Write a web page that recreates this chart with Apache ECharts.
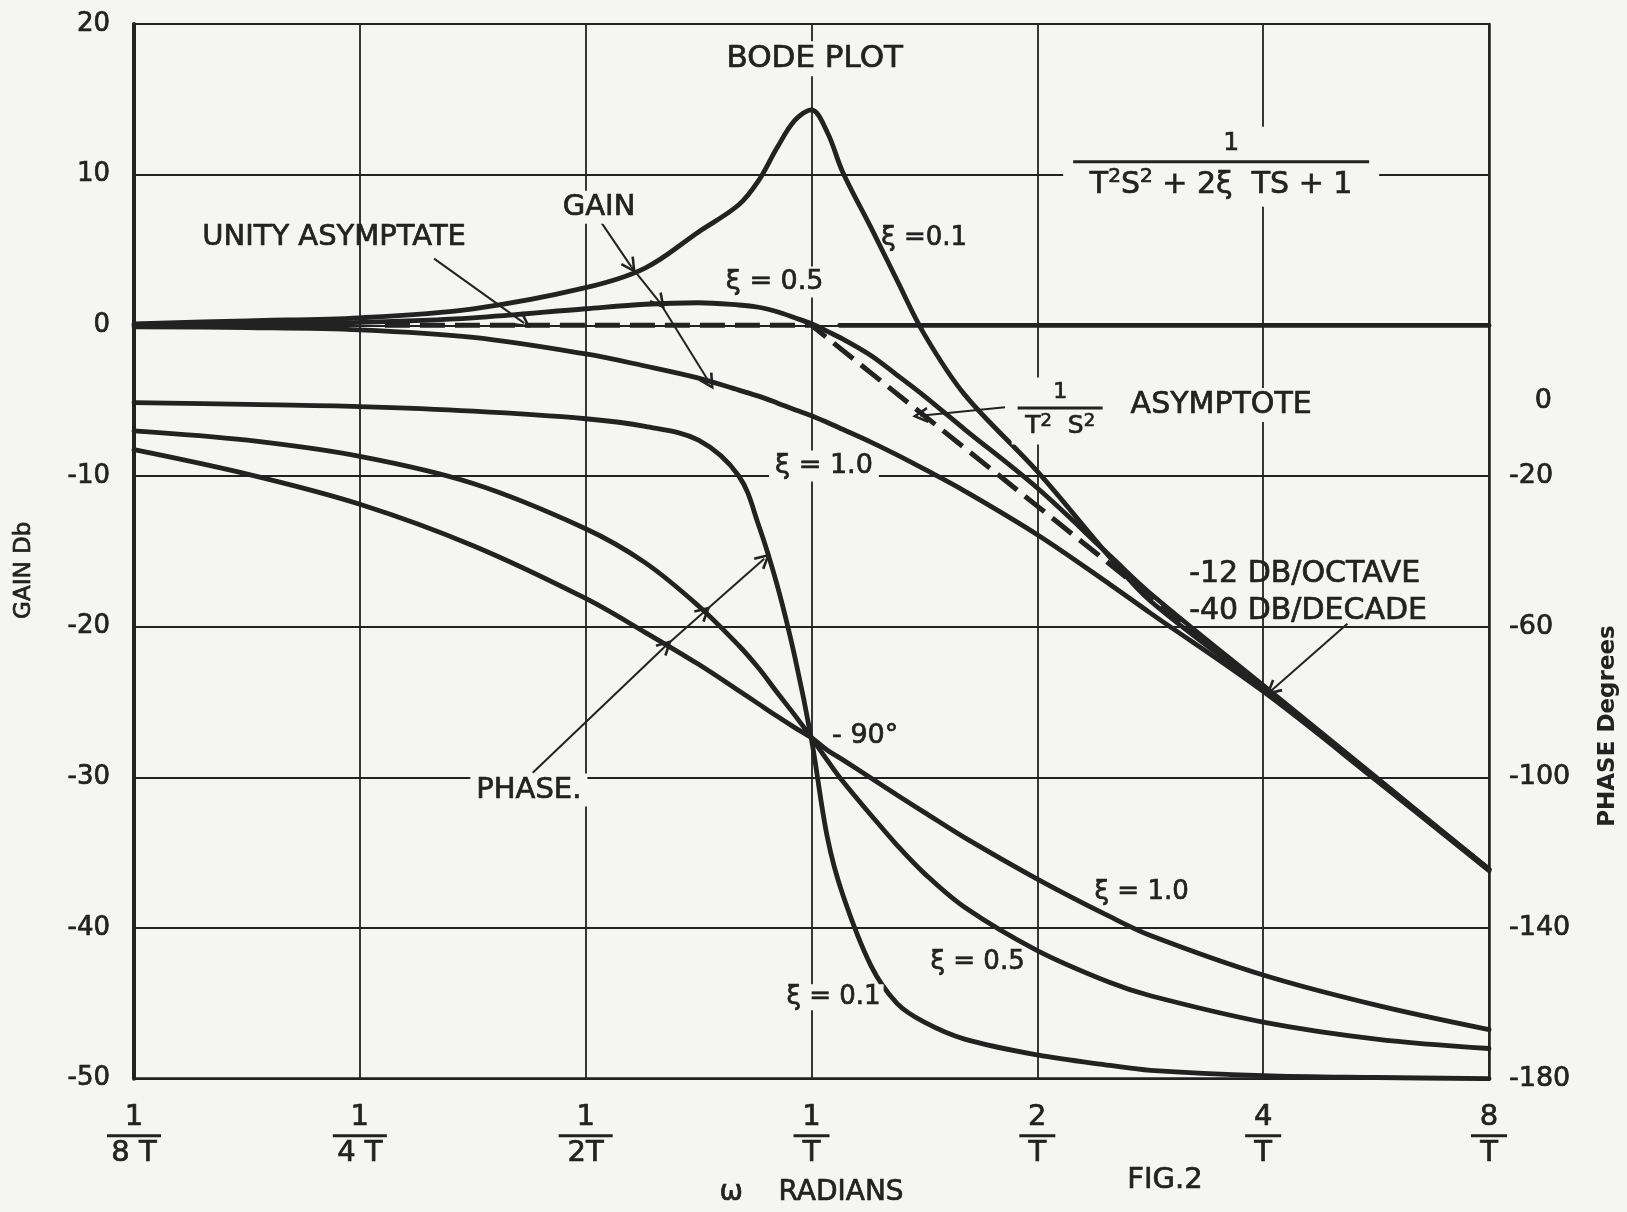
<!DOCTYPE html>
<html><head><meta charset="utf-8">
<script src="https://cdn.jsdelivr.net/npm/echarts@6/dist/echarts.min.js"></script>
<style>html,body{margin:0;padding:0;background:#f5f5f3}#chart{width:1627px;height:1212px}</style>
</head><body><div id="chart"></div>
<script>
// ---- data (omega in units of 1/T) ----
const omega = [0.125, 0.177, 0.25, 0.354, 0.5, 0.6, 0.707, 0.8, 0.85, 0.9, 0.95, 1.0, 1.05, 1.1, 1.2, 1.3, 1.414, 1.6, 2, 2.5, 2.83, 4, 5.66, 8];
const gainZeta01 = [0.1, 0.3, 0.5, 1.1, 2.5, 3.8, 6.2, 8.0, 9.6, 11.8, 13.6, 14.3, 12.8, 10.2, 6.5, 3.0, -0.6, -4.6, -9.7, -15.4, -18.3, -24.1, -30.1, -36.1];
const gainZeta05 = [0, 0.1, 0.2, 0.5, 1.1, 1.4, 1.5, 1.35, 1.2, 0.9, 0.5, 0.1, -0.4, -0.9, -2.0, -3.3, -4.7, -6.9, -10.8, -15.3, -17.8, -23.9, -30.0, -36.1];
const gainZeta10 = [-0.1, -0.15, -0.3, -0.8, -1.9, -2.7, -3.5, -4.3, -4.7, -5.15, -5.6, -6.0, -6.45, -6.9, -7.75, -8.6, -9.55, -11.0, -13.9, -17.2, -19.1, -24.3, -30.2, -36.2];
const phaseZeta01 = [-0.5, -1.0, -1.6, -2.8, -4.8, -6.8, -10.5, -20, -33, -49, -68, -90, -116, -131, -150, -160, -165, -169.5, -173.7, -176.5, -177.8, -179.2, -179.7, -180];
const phaseZeta05 = [-8, -10.5, -14.8, -22, -34, -43, -54.5, -65, -71, -77.5, -83.5, -89.5, -95.5, -101, -110, -118, -125.5, -134.5, -146, -154.5, -158, -165, -169.5, -172];
const phaseZeta10 = [-13, -19.5, -27.5, -38.5, -52.5, -61.5, -70, -77, -80.5, -83.8, -86.8, -89.5, -92.8, -95.3, -100.2, -104.7, -109.3, -116, -127, -137, -142, -152.5, -160.5, -167];
const asymOmega = [0.27, 1, 2, 4];
const asymGain = [0, 0, -12, -24];
const unityOmega = [1.09, 8];
const unityGain = [0, 0];
// tick labels
const xTickNum = ['1', '1', '1', '1', '2', '4', '8'];
const xTickDen = ['8 T', '4 T', '2T', 'T', 'T', 'T', 'T'];
const phaseTickLabels = [0, -20, -60, -100, -140, -180];

const INK = '#222222', BG = '#f5f5f3', FONT = '"DejaVu Sans", sans-serif';
const HEAVY = {textBorderColor: INK, textBorderWidth: 0.7};

const formula = '{fn|1}\n{fb| }\n{fd|T}{fs|2}{fd|S}{fs|2}{fd| + 2ξ  TS + 1}';
const formulaRich = {
  fn: {fontSize: 25, lineHeight: 26, align: 'center', color: INK, fontFamily: FONT, padding: [0, 0, 0, 20]},
  fb: {width: 296, height: 3, lineHeight: 10, backgroundColor: INK, align: 'center'},
  fd: {fontSize: 30, lineHeight: 36, align: 'center', color: INK, fontFamily: FONT},
  fs: {fontSize: 20, lineHeight: 34, verticalAlign: 'top', align: 'center', color: INK, fontFamily: FONT}
};
const asymFrac = '{an|1}\n{ab| }\n{ad|T}{as|2}{ad|  S}{as|2}';
const asymRich = {
  an: {fontSize: 22, lineHeight: 22, align: 'center', color: INK, fontFamily: FONT},
  ab: {width: 85, height: 3, lineHeight: 9, backgroundColor: INK, align: 'center'},
  ad: {fontSize: 25, lineHeight: 28, align: 'center', color: INK, fontFamily: FONT},
  as: {fontSize: 18, lineHeight: 28, verticalAlign: 'top', align: 'center', color: INK, fontFamily: FONT}
};

const notes = [
  {text: 'BODE PLOT', at: [1.01, 17.7], size: 31},
  {text: 'UNITY ASYMPTATE', at: [0.231, 5.85], size: 29, bg: false},
  {text: 'GAIN', at: [0.521, 7.84], size: 29},
  {text: 'ξ =0.1', at: [1.413, 5.76], size: 26, bg: false},
  {text: 'ξ = 0.5', at: [0.893, 2.88], size: 27},
  {text: 'ξ = 1.0', at: [1.039, -9.33], size: 27},
  {text: formula, at: [3.516, 10.52], rich: formulaRich, pad: [4, 10]},
  {text: asymFrac, at: [2.145, -5.69], rich: asymRich, pad: [4, 6]},
  {text: 'ASYMPTOTE', at: [3.516, -5.29], size: 30},
  {text: '-12 DB/OCTAVE\n-40 DB/DECADE', at: [3.129, -17.75], size: 30, lh: 37, align: 'left', bg: false},
  {text: 'PHASE.', at: [0.42, -30.84], size: 29},
  {text: '- 90°', at: [1.179, -27.27], size: 27, bg: false},
  {text: 'ξ = 1.0', at: [2.755, -37.66], size: 26, bg: false},
  {text: 'ξ = 0.5', at: [1.665, -42.29], size: 26, bg: false},
  {text: 'ξ = 0.1', at: [1.070, -44.6], size: 26, pad: [0, 3]}
];
const gainArrows = [
  [[0.314, 4.43], [0.414, 0.15]],
  [[0.525, 6.8], [0.575, 3.9]],
  [[0.575, 3.9], [0.628, 1.5]],
  [[0.628, 1.5], [0.731, -3.8]],
  [[1.811, -5.43], [1.396, -6.0]],
  [[5.18, -19.8], [4.11, -24.2]]
];
const phaseArrows = [
  [[0.425, -98.8], [0.64, -65]],
  [[0.64, -65], [0.72, -56]],
  [[0.72, -56], [0.865, -42]]
];

const ARROW = 'path://M10,0 L20,20 L17,21.5 L10,7 L3,21.5 L0,20 Z';
function arrowMarks(list) {
  return {
    silent: true, symbol: ['none', ARROW], symbolSize: 16,
    label: {show: false}, emphasis: {disabled: true},
    lineStyle: {color: INK, width: 2, type: 'solid', opacity: 1},
    itemStyle: {color: INK, opacity: 1},
    data: list.map(seg => [{coord: seg[0]}, {coord: seg[1]}])
  };
}
function curve(name, xs, ys, axis, extra) {
  return Object.assign({
    name, type: 'line', yAxisIndex: axis, data: xs.map((x, i) => [x, ys[i]]),
    showSymbol: false, symbol: 'none', smooth: 0.35, silent: true, z: 3,
    lineStyle: {color: INK, width: 4.8, cap: 'round', join: 'round'}
  }, extra || {});
}

const chart = echarts.init(document.getElementById('chart'));
chart.setOption({
  animation: false,
  backgroundColor: BG,
  textStyle: {fontFamily: FONT, color: INK},
  grid: {left: 134, right: 138, top: 24, bottom: 130},
  xAxis: {
    type: 'log', logBase: 2, min: 0.125, max: 8, splitNumber: 6,
    axisLine: {show: true, onZero: false, lineStyle: {color: INK, width: 2.5}},
    axisTick: {show: false},
    splitLine: {show: true, lineStyle: {color: INK, width: 1.8}},
    axisLabel: Object.assign({
      interval: 0, showMinLabel: true, showMaxLabel: true, hideOverlap: false, margin: 24,
      formatter: v => {
        const i = Math.round(Math.log2(v)) + 3;
        return '{n|' + xTickNum[i] + '}\n{' + (i < 3 ? 'bw' : 'bn') + '| }\n{d|' + xTickDen[i] + '}';
      },
      rich: {
        n: {fontSize: 29, lineHeight: 30, align: 'center', color: INK, fontFamily: FONT},
        bw: {width: 54, height: 3, lineHeight: 6, backgroundColor: INK, align: 'center'},
        bn: {width: 36, height: 3, lineHeight: 6, backgroundColor: INK, align: 'center'},
        d: {fontSize: 29, lineHeight: 30, align: 'center', color: INK, fontFamily: FONT}
      }
    }, HEAVY),
    name: 'ω    RADIANS', nameLocation: 'middle', nameGap: 100,
    nameTextStyle: Object.assign({fontSize: 28, color: INK, fontFamily: FONT}, HEAVY)
  },
  yAxis: [
    {
      type: 'value', min: -50, max: 20, interval: 10, position: 'left',
      axisLine: {show: true, onZero: false, lineStyle: {color: INK, width: 4}},
      axisTick: {show: false},
      splitLine: {show: true, lineStyle: {color: INK, width: 1.8}},
      axisLabel: Object.assign({margin: 24, fontSize: 26, color: INK, fontFamily: FONT}, HEAVY),
      name: 'GAIN Db', nameLocation: 'middle', nameGap: 98, nameRotate: 90,
      nameTextStyle: Object.assign({fontSize: 23, color: INK, fontFamily: FONT, padding: [0, 38, 0, 0]}, HEAVY)
    },
    {
      type: 'value', min: -180, max: 100, interval: 20, position: 'right',
      axisLine: {show: true, onZero: false, lineStyle: {color: INK, width: 2.5}},
      axisTick: {show: false},
      splitLine: {show: false},
      axisLabel: Object.assign({
        margin: 20, fontSize: 27, color: INK, fontFamily: FONT, showMaxLabel: true,
        formatter: v => phaseTickLabels.indexOf(v) >= 0 ? (v === 0 ? '   0' : String(v)) : ''
      }, HEAVY)
    }
  ],
  graphic: [
    {type: 'text', x: 1608, y: 726, rotation: Math.PI / 2,
     style: {text: 'PHASE Degrees', font: 'bold 23px "DejaVu Sans"', fill: INK, align: 'center', verticalAlign: 'middle', textAlign: 'center', textVerticalAlign: 'middle'}},
    {type: 'text', x: 1165, y: 1180,
     style: {text: 'FIG.2', font: '29px "DejaVu Sans"', fill: INK, stroke: INK, lineWidth: 0.7, align: 'center', verticalAlign: 'middle', textAlign: 'center', textVerticalAlign: 'middle'}}
  ],
  series: [
    curve('Gain ζ=0.1', omega, gainZeta01, 0),
    curve('Gain ζ=0.5', omega, gainZeta05, 0),
    curve('Gain ζ=1.0', omega, gainZeta10, 0),
    curve('Unity asymptote', unityOmega, unityGain, 0, {smooth: false}),
    curve('1/T²S² asymptote', asymOmega, asymGain, 0, {smooth: false, lineStyle: {color: INK, width: 5, type: [25, 10]}}),
    curve('Phase ζ=0.1', omega, phaseZeta01, 1),
    curve('Phase ζ=0.5', omega, phaseZeta05, 1),
    curve('Phase ζ=1.0', omega, phaseZeta10, 1, {markLine: arrowMarks(phaseArrows)}),
    {
      name: 'notes', type: 'scatter', yAxisIndex: 0, symbolSize: 0, silent: true, z: 6,
      itemStyle: {opacity: 1, color: INK},
      data: notes.map(n => ({
        value: n.at,
        label: Object.assign({
          show: true, position: 'inside', formatter: () => n.text, opacity: 1,
          fontSize: n.size || 26, lineHeight: n.lh, color: INK, fontFamily: FONT,
          align: n.align || 'center',
          backgroundColor: n.bg === false ? 'transparent' : BG,
          padding: n.pad || [2, 6], rich: n.rich
        }, HEAVY)
      })),
      markLine: arrowMarks(gainArrows)
    }
  ]
});
</script></body></html>
